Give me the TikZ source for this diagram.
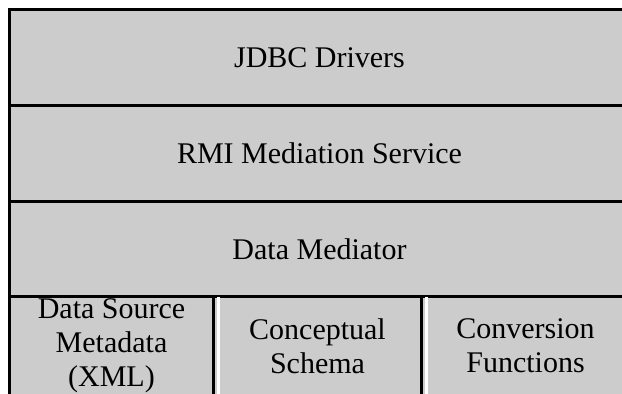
\documentclass[tikz,border=0pt]{standalone}
\usepackage{fontspec}
\setmainfont{Liberation Serif}
\usepackage{tikz}

\begin{document}
\begin{tikzpicture}[x=1pt,y=-1pt,
	layer/.style={draw,line width=3pt,fill=black!20,inner sep=0pt,
		minimum width=620pt,minimum height=96pt,align=center,
		font=\fontsize{30}{34}\selectfont},
	cell/.style={layer,minimum width=208pt,minimum height=99pt}]
	\useasboundingbox (0,0) rectangle (622,394);
	\fill[white] (0,0) rectangle (622,394);
	% the three full-width layers
	\node[layer] (jdbc) at (319.5,57.5) {JDBC Drivers};
	\node[layer] (rmi) at (319.5,153.5) {RMI Mediation Service};
	\node[layer,minimum height=95pt] (mediator) at (319.5,249) {Data Mediator};
	% bottom row
	\node[cell,minimum width=204pt] (meta) at (111.5,346) {Data Source\\Metadata\\(XML)};
	\node[cell] (schema) at (317.5,346) {Conceptual\\Schema};
	\node[cell] (conv) at (525.5,346) {Conversion\\Functions};
	\draw[white,line width=3pt] ([xshift=3pt,yshift=-1.5pt]meta.north east) -- ([xshift=3pt]meta.south east);
	\draw[white,line width=3pt] ([xshift=3pt,yshift=-1.5pt]schema.north east) -- ([xshift=3pt]schema.south east);
\end{tikzpicture}
\end{document}
